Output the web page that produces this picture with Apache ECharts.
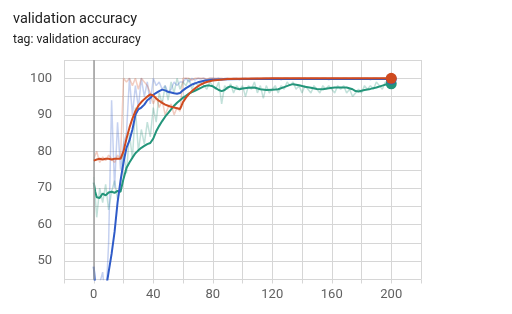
<!DOCTYPE html>
<html><head><meta charset="utf-8">
<script src="https://cdn.jsdelivr.net/npm/echarts@6/dist/echarts.min.js"></script>
<style>html,body{margin:0;padding:0;background:#fff}#c{width:512px;height:314px}</style>
</head><body><div id="c"></div>
<script>
// Data
const rawEpochs = [];
for (let e = 0; e <= 200; e += 2) rawEpochs.push(e);
const orangeRaw = [78,80,77,78.5,77.5,79,78,77,79,78,100,99,100,98,100,97,100,99,98,96,93,95,92,94,90,92,93,90,92,91,100,100,100,99.5,100,100,100,100,99.8,100,100,100,100,100,99.8,100,100,100,100,100,100,100,100,100,100,100,100,100,100,100,100,100,100,100,100,100,100,100,100,100,100,100,100,100,100,100,100,100,100,100,100,100,100,100,100,100,100,100,100,100,100,100,100,100,100,100,100,100,100,100,100];
const tealRaw = [73,62,70,66,71,64,69,72,67,70,80,74,85,78,92,80,86,82,88,84,92,88,96,93,98,94,99,96,100,97,99,98,100,97,99,98,99,98,97,99,98,97,99,93,98,97,98.5,96,98,97,98,95,98,97,99,96,98,94.5,98,96,97,98,96,98,97,99,98,99,97,98,96,98,97,96,98,97,96,98,97,98,97,96,98,97,98,96,97,95,96,97,96,98,97,98,97,99,98,97,99,98.5,98.5];
const blueRaw = [48,30,44,47,38,55,94,70,88,75,82,85,100,90,98,92,100,95,99,93,100,98,99,97,98,96,97,99,98,99,99,100,99,100,99.5,100,99.8,100,99.5,100,100,99.8,100,99.5,100,100,99.8,100,100,99.6,100,100,99.8,100,100,100,99.7,100,100,99.8,100,100,100,99.6,100,100,99.8,100,100,100,99.8,100,99.7,100,100,100,99.8,100,100,99.6,100,100,100,99.8,100,100,99.7,100,100,100,99.8,100,100,99.6,100,100,99.8,100,100,100,100];

const orangeX = [0,2,4,6,8,10,12,14,16,18,19,20,22,24,26,28,30,32,34,36,38,39,40,42,44,46,48,50,52,54,56,58,59,60,62,64,66,68,70,72,74,76,80,85,90,100,120,150,180,200];
const orangeY = [77.5,77.8,78,77.8,78,78,77.8,78,78,78,78,80,83.5,86.5,89,91,92.5,93.5,94.3,95,95.6,95.8,95.3,94.5,93.8,93.3,92.8,92.5,92.2,92,91.8,91.6,92.5,93.5,94.7,95.7,96.5,97.2,97.8,98.3,98.7,99,99.4,99.6,99.8,99.9,100,100,100,100];

const blueX = [0,2,4,6,8,10,12,14,16,18,20,22,24,26,28,30,32,34,36,38,40,42,44,46,48,50,52,54,56,58,60,62,64,66,70,75,80,90,100,200];
const blueY = [48.5,38,33,37,42,47,52,58,66,72,77,81,83,86,90,91.5,92,92.8,94,94.6,95.5,96,96.5,96.9,96.7,96.3,96.1,95.9,95.8,96,96.7,97.3,97.8,98.3,98.9,99.4,99.6,99.75,99.8,99.8];

const tealX = [0,1,2,4,6,8,10,12,14,16,18,19,20,22,24,26,28,30,32,34,36,38,40,42,44,46,48,50,52,54,56,58,60,62,64,66,68,70,72,74,76,78,80,82,84,86,88,90,92,94,96,98,100,104,108,112,116,120,124,128,132,134,138,142,146,150,154,158,162,166,170,174,176,178,182,186,190,194,198,200];
const tealY = [71.5,69,67.5,67.3,68.5,68,68.8,69,68.7,69.2,69,69.5,72.5,75.5,77,78.3,79.5,80.3,81,81.5,82,82.3,83.5,85.5,87,88.3,89.5,90.5,91.5,92.5,93.3,94,94.7,95.2,95.8,96.2,96.6,97,97.4,97.8,98,98,97.8,97.3,96.8,96.5,96.8,97.5,97.8,97.5,97.2,97,97.2,97.4,97.5,97,96.8,96.9,97,97.6,98.2,98.4,98.1,97.7,97.4,97.1,97,97.3,97.5,97.5,97.5,97,96.5,96.4,96.8,97.1,97.5,98,98.5,98.5];

const xTicks = [0,40,80,120,160,200];
const yTicks = [50,60,70,80,90,100];

const BLUE = '#2f5bc8', ORANGE = '#cf4a1f', TEAL = '#23957a';
const zip = (xs, ys) => xs.map((x, i) => [x, ys[i]]);

function rawSeries(ys, color) {
  return {type:'line', data: zip(rawEpochs, ys), showSymbol:false, symbol:'none', silent:true,
    lineStyle:{color, width:1.5, opacity:0.28}, clip:true, z:1};
}
function smoothSeries(xs, ys, color, z, dot) {
  return {type:'line', data: zip(xs, ys), silent:true, clip:true, z,
    symbol:'circle', symbolSize: (v, p) => (dot && p.dataIndex === xs.length - 1) ? 11 : 0,
    showAllSymbol:true,
    itemStyle:{color}, lineStyle:{color, width:2}};
}

const chart = echarts.init(document.getElementById('c'), null, {renderer:'canvas'});
chart.setOption({
  animation:false,
  backgroundColor:'#fff',
  title:[
    {text:'validation accuracy', left:8, top:7, textStyle:{fontFamily:'Roboto', fontSize:14.5, fontWeight:'normal', color:'#212121'}},
    {text:'tag: validation accuracy', left:8, top:29, textStyle:{fontFamily:'Roboto', fontSize:12.2, fontWeight:'normal', color:'#212121'}}
  ],
  grid:{left:64, right:91, top:60, bottom:34.5},
  xAxis:{type:'value', min:-20, max:220, interval:20,
    axisLine:{show:false},
    axisTick:{show:true, length:4, lineStyle:{color:'#d6d6d6'}},
    splitLine:{show:true, lineStyle:{color:'#d6d6d6', width:1}},
    axisLabel:{margin:9, color:'#616161', fontFamily:'Roboto', fontSize:13,
      formatter:v => xTicks.includes(v) ? String(v) : ''}},
  yAxis:{type:'value', min:45, max:105, interval:5,
    axisLine:{show:false},
    axisTick:{show:true, length:5, lineStyle:{color:'#d6d6d6'}},
    splitLine:{show:true, lineStyle:{color:'#d6d6d6', width:1}},
    axisLabel:{margin:12, color:'#616161', fontFamily:'Roboto', fontSize:13,
      formatter:v => yTicks.includes(v) ? String(v) : ''}},
  series:[
    {type:'line', data:[], markLine:{silent:true, symbol:'none', label:{show:false},
      lineStyle:{color:'#9e9e9e', width:1.5, type:'solid'}, data:[{xAxis:0}]}, z:0},
    rawSeries(tealRaw, TEAL),
    rawSeries(blueRaw, BLUE),
    rawSeries(orangeRaw, ORANGE),
    smoothSeries(tealX, tealY, TEAL, 3, true),
    smoothSeries(blueX, blueY, BLUE, 4, true),
    smoothSeries(orangeX, orangeY, ORANGE, 5, true)
  ]
});
</script></body></html>
